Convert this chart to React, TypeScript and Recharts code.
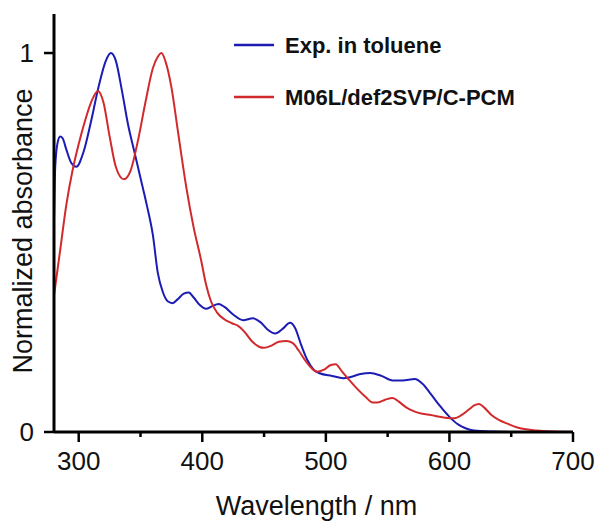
import React from 'react';
import { LineChart, Line, XAxis, YAxis, Legend } from 'recharts';

const expWavelength = [280, 281, 283, 285, 287, 290, 294, 298, 304, 310, 316, 322, 326, 330, 335, 340, 345, 350, 355, 360, 364, 368, 372, 376, 380, 385, 389, 393, 398, 403, 408, 413, 418, 425, 433, 441, 447, 453, 459, 465, 471, 475, 480, 485, 490, 495, 505, 514, 520, 528, 536, 545, 554, 562, 572, 578, 585, 592, 600, 607, 613, 620, 635, 650];
const expAbsorbance = [0.56, 0.70, 0.765, 0.78, 0.775, 0.745, 0.71, 0.70, 0.74, 0.82, 0.91, 0.98, 1.0, 0.98, 0.90, 0.81, 0.74, 0.67, 0.60, 0.52, 0.42, 0.37, 0.345, 0.34, 0.35, 0.365, 0.368, 0.355, 0.335, 0.325, 0.332, 0.338, 0.33, 0.31, 0.295, 0.30, 0.29, 0.27, 0.26, 0.272, 0.288, 0.275, 0.23, 0.19, 0.165, 0.155, 0.148, 0.142, 0.145, 0.153, 0.156, 0.148, 0.136, 0.136, 0.14, 0.128, 0.10, 0.07, 0.04, 0.02, 0.01, 0.004, 0.001, 0];

const calcWavelength = [280, 285, 290, 295, 300, 305, 310, 315.6, 320, 325, 330, 336.5, 342, 348, 354, 360, 364, 367, 370, 375, 380, 387, 393, 399, 403, 407, 412, 418, 424, 429, 434, 440, 446, 450, 456, 462, 468, 473, 478, 483, 488, 493, 499, 504, 508, 513, 519, 525, 532, 538, 542, 548, 554, 559, 565, 571, 578, 585, 592, 598, 604, 610, 616, 620, 624, 628, 634, 640, 647, 655, 662, 670, 680, 700];
const calcAbsorbance = [0.36, 0.48, 0.60, 0.69, 0.76, 0.82, 0.87, 0.90, 0.87, 0.78, 0.70, 0.667, 0.69, 0.77, 0.87, 0.96, 0.99, 1.0, 0.98, 0.91, 0.80, 0.647, 0.54, 0.454, 0.39, 0.345, 0.315, 0.297, 0.287, 0.28, 0.265, 0.24, 0.225, 0.222, 0.228, 0.238, 0.24, 0.235, 0.215, 0.19, 0.17, 0.159, 0.165, 0.177, 0.179, 0.16, 0.137, 0.115, 0.093, 0.078, 0.078, 0.085, 0.09, 0.08, 0.065, 0.055, 0.048, 0.045, 0.04, 0.037, 0.036, 0.045, 0.06, 0.07, 0.074, 0.065, 0.045, 0.032, 0.022, 0.012, 0.007, 0.004, 0.002, 0];

const xTicks = [300, 350, 400, 450, 500, 550, 600, 650, 700];
const xMajorTicks = [300, 400, 500, 600, 700];
const yTicks = [0, 1];

const seriesNames = ['Exp. in toluene', 'M06L/def2SVP/C-PCM'];
const seriesColors = ['#1c1cb4', '#d22a2c'];

const expData = expWavelength.map((x, i) => ({ x, y: expAbsorbance[i] }));
const calcData = calcWavelength.map((x, i) => ({ x, y: calcAbsorbance[i] }));

const FONT = '"Liberation Sans", Arial, sans-serif';

const XTick = (props: any) => {
  const { x, y, payload } = props;
  const major = xMajorTicks.includes(payload.value);
  return (
    <g>
      <line x1={x} x2={x} y1={y} y2={y + (major ? 10 : 5)} stroke="#000" strokeWidth={2.5} />
      {major && (
        <text x={x} y={y + 38} textAnchor="middle" fontSize={26} fontFamily={FONT} fill="#111">
          {payload.value}
        </text>
      )}
    </g>
  );
};

const YTick = (props: any) => {
  const { x, y, payload } = props;
  return (
    <g>
      <line x1={x - 10} x2={x} y1={y} y2={y} stroke="#000" strokeWidth={2.5} />
      <text x={x - 20} y={y + 9} textAnchor="end" fontSize={26} fontFamily={FONT} fill="#111">
        {payload.value}
      </text>
    </g>
  );
};

const LegendContent = () => (
  <svg width={330} height={100}>
    {seriesNames.map((name, i) => (
      <g key={name}>
        <line x1={6} x2={46} y1={17 + i * 52} y2={17 + i * 52} stroke={seriesColors[i]} strokeWidth={2.5} />
        <text x={57} y={25 + i * 52} fontSize={22} fontWeight="bold" fontFamily={FONT} fill="#111">
          {name}
        </text>
      </g>
    ))}
  </svg>
);

export default function App() {
  return (
    <div style={{ position: 'absolute', left: 0, top: 0, width: 600, height: 522, background: '#fff' }}>
      <LineChart width={600} height={522} margin={{ top: 14, right: 27, bottom: 0, left: 0 }}>
        <XAxis
          dataKey="x"
          type="number"
          domain={[280, 700]}
          ticks={xTicks}
          allowDataOverflow
          height={90}
          tickSize={0}
          tickMargin={0}
          tickLine={false}
          tick={<XTick />}
          axisLine={{ stroke: '#000', strokeWidth: 3 }}
          interval={0}
          label={(p: any) => {
            const vb = p.viewBox || {};
            return (
              <text x={vb.x + vb.width / 2 + 3} y={vb.y + 83} textAnchor="middle" fontSize={27} fontFamily={FONT} fill="#111">
                Wavelength / nm
              </text>
            );
          }}
        />
        <XAxis xAxisId="top" orientation="top" type="number" domain={[280, 700]} height={0} tick={false} tickLine={false} axisLine={{ stroke: '#000', strokeWidth: 3 }} />
        <YAxis
          type="number"
          domain={[0, 1.103]}
          ticks={yTicks}
          allowDataOverflow
          width={54}
          tickSize={0}
          tickMargin={0}
          tickLine={false}
          tick={<YTick />}
          axisLine={{ stroke: '#000', strokeWidth: 3 }}
          interval={0}
          label={() => {
            const cx = 32;
            const cy = 231;
            return (
              <text x={cx} y={cy} transform={`rotate(-90 ${cx} ${cy})`} textAnchor="middle" fontSize={27} fontFamily={FONT} fill="#111">
                Normalized absorbance
              </text>
            );
          }}
        />
        <YAxis yAxisId="right" orientation="right" type="number" domain={[0, 1.103]} width={0} tick={false} tickLine={false} axisLine={{ stroke: '#000', strokeWidth: 3 }} />
        <Legend
          layout="vertical"
          align="center"
          verticalAlign="middle"
          content={<LegendContent />}
          wrapperStyle={{ position: 'absolute', left: 228, top: 28, width: 330, height: 100 }}
        />
        <Line data={expData} dataKey="y" name={seriesNames[0]} type="monotone" stroke={seriesColors[0]} strokeWidth={2} dot={false} activeDot={false} isAnimationActive={false} />
        <Line data={calcData} dataKey="y" name={seriesNames[1]} type="monotone" stroke={seriesColors[1]} strokeWidth={2} dot={false} activeDot={false} isAnimationActive={false} />
      </LineChart>
    </div>
  );
}
